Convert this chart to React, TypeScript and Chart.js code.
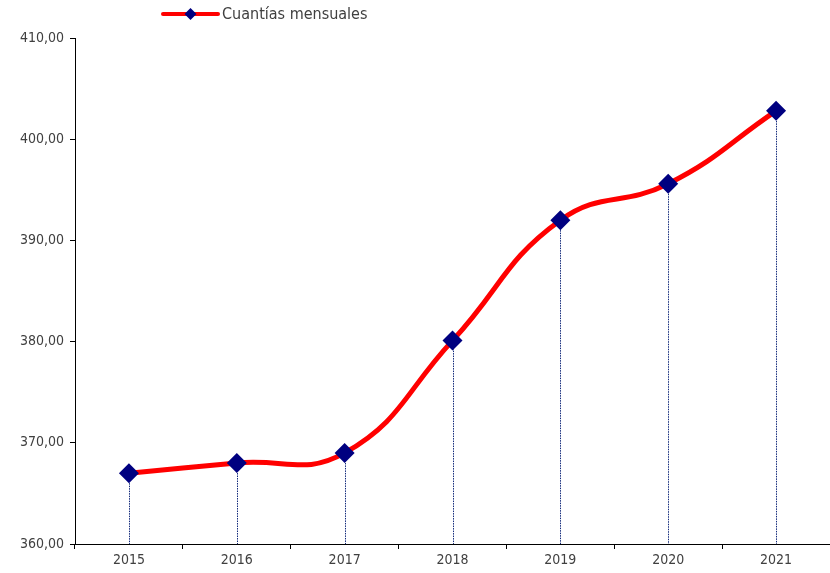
import React, { useEffect, useRef } from "react";
import { Chart, registerables } from "chart.js";

Chart.register(...registerables);

const years = ["2015", "2016", "2017", "2018", "2019", "2020", "2021"];
const cuantias = [367.0, 368.0, 369.0, 380.1, 392.0, 395.6, 402.8];
const seriesLabel = "Cuantías mensuales";
const yMin = 360;
const yMax = 410;
const yStep = 10;

const FONT = "'Liberation Sans Narrow', 'DejaVu Sans Condensed', 'Arial Narrow', sans-serif";
const TEXT = "#404040";

const dropLines = {
  id: "dropLines",
  beforeDatasetsDraw(chart: any) {
    const ctx = chart.ctx;
    const meta = chart.getDatasetMeta(0);
    const bottom = chart.scales.y.getPixelForValue(yMin);
    ctx.save();
    ctx.strokeStyle = "#10287a";
    ctx.lineWidth = 1;
    ctx.setLineDash([1.5, 1]);
    meta.data.forEach((pt: any) => {
      const x = Math.round(pt.x) + 0.5;
      ctx.beginPath();
      ctx.moveTo(x, pt.y);
      ctx.lineTo(x, bottom);
      ctx.stroke();
    });
    ctx.restore();
  },
};

const legendPlugin = {
  id: "customLegend",
  afterDraw(chart: any) {
    const ctx = chart.ctx;
    const y = 14;
    const x0 = 163;
    const x1 = 218;
    ctx.save();
    ctx.strokeStyle = "#ff0000";
    ctx.lineWidth = 4;
    ctx.lineCap = "round";
    ctx.beginPath();
    ctx.moveTo(x0, y);
    ctx.lineTo(x1, y);
    ctx.stroke();
    const cx = (x0 + x1) / 2;
    const r = 6;
    ctx.fillStyle = "#000080";
    ctx.beginPath();
    ctx.moveTo(cx, y - r);
    ctx.lineTo(cx + r, y);
    ctx.lineTo(cx, y + r);
    ctx.lineTo(cx - r, y);
    ctx.closePath();
    ctx.fill();
    ctx.fillStyle = TEXT;
    ctx.font = `16px ${FONT}`;
    ctx.textBaseline = "middle";
    ctx.textAlign = "left";
    ctx.fillText(chart.data.datasets[0].label, x1 + 4, y + 1);
    ctx.restore();
  },
};

export default function App() {
  const ref = useRef<HTMLCanvasElement>(null);
  useEffect(() => {
    if (!ref.current) return;
    const chart = new Chart(ref.current, {
      type: "line",
      data: {
        labels: years,
        datasets: [
          {
            label: seriesLabel,
            data: cuantias,
            borderColor: "#ff0000",
            borderWidth: 5,
            tension: 0.45,
            clip: false,
            pointStyle: "rectRot",
            pointRadius: 10,
            pointHoverRadius: 10,
            pointBackgroundColor: "#000080",
            pointBorderColor: "#000080",
            pointBorderWidth: 0,
          },
        ],
      },
      options: {
        animation: false,
        responsive: false,
        layout: { autoPadding: false, padding: { top: 38, right: 0, left: 0, bottom: 0 } },
        plugins: { legend: { display: false }, tooltip: { enabled: false } },
        scales: {
          x: {
            offset: true,
            grid: {
              offset: true,
              drawOnChartArea: false,
              drawTicks: true,
              tickLength: 5,
              color: "#000000",
            },
            border: { display: true, color: "#000000", width: 1 },
            ticks: { color: TEXT, font: { family: FONT, size: 14 }, padding: 3 },
            afterFit(scale: any) {
              scale.height = 29;
              scale.paddingLeft = 0;
              scale.paddingRight = 0;
            },
          },
          y: {
            min: yMin,
            max: yMax,
            grid: {
              drawOnChartArea: false,
              drawTicks: true,
              tickLength: 5,
              color: "#000000",
            },
            border: { display: true, color: "#000000", width: 1 },
            ticks: {
              stepSize: yStep,
              color: TEXT,
              font: { family: FONT, size: 14 },
              padding: 6,
              callback: (v: any) => Number(v).toFixed(2).replace(".", ","),
            },
            afterFit(scale: any) {
              scale.width = 75;
              scale.paddingRight = 0;
              scale.paddingLeft = 0;
            },
          },
        },
      },
      plugins: [dropLines, legendPlugin],
    });
    return () => chart.destroy();
  }, []);
  return (
    <div style={{ position: "fixed", left: 0, top: 0, width: 830, height: 573, background: "#fff" }}>
      <canvas ref={ref} width={830} height={573} style={{ display: "block", width: 830, height: 573 }} />
    </div>
  );
}
